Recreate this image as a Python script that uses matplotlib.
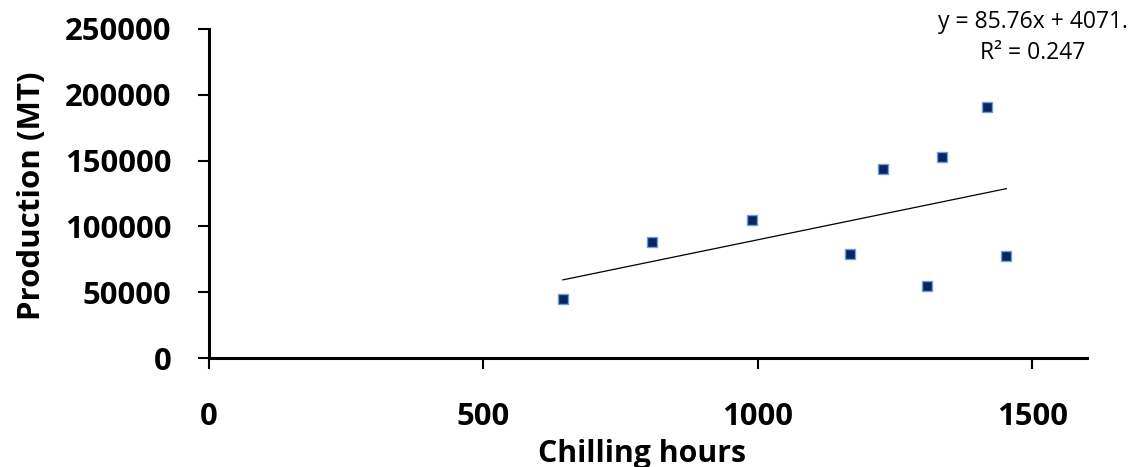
import matplotlib
matplotlib.use("Agg")
import matplotlib.pyplot as plt
import numpy as np

# data
chilling_hours = [645, 807, 989, 1169, 1229, 1309, 1336, 1418, 1453]
production = [44800, 88100, 104500, 79200, 143500, 54400, 152800, 191000, 77400]

# trendline as printed on the chart
slope = 85.76
intercept = 4071
eq_text = "y = 85.76x + 4071."
r2_text = "R\u00b2 = 0.247"

x_ticks = [0, 500, 1000, 1500]
y_ticks = [0, 50000, 100000, 150000, 200000, 250000]

plt.rcParams['font.family'] = ['Open Sans', 'DejaVu Sans']

W, H, dpi = 1132, 467, 100
fig = plt.figure(figsize=(W / dpi, H / dpi), dpi=dpi)
ax = fig.add_axes([209 / W, 1 - 358 / H, (1087 - 209) / W, (358 - 29) / H])

xs = np.array([min(chilling_hours), max(chilling_hours)])
ax.plot(xs, slope * xs + intercept, color='black', lw=0.9, zorder=2)
ax.plot(chilling_hours, production, ls='none', marker='s', ms=7.8,
        mfc='#0b2265', mec='#6fa0d8', mew=1.0, zorder=3)

ax.set_xlim(0, 1600)
ax.set_ylim(0, 250000)
ax.set_xticks(x_ticks)
ax.set_yticks(y_ticks)
ax.set_xticklabels([str(v) for v in x_ticks], fontsize=22.3, fontweight='bold')
ax.set_yticklabels([str(v) for v in y_ticks], fontsize=22.3, fontweight='bold')
ax.tick_params(axis='x', direction='out', length=8, width=1.5, pad=24)
ax.tick_params(axis='y', direction='out', length=8, width=1.5, pad=19)

for s in ['top', 'right']:
    ax.spines[s].set_visible(False)
for s in ['left', 'bottom']:
    ax.spines[s].set_linewidth(2.2)

fig.text(642 / W, 1 - 462 / H, "Chilling hours", ha='center', va='baseline',
         fontsize=21.8, fontweight='bold')
fig.text(32 / W, 1 - 196 / H, "Production (MT)", ha='center', va='center',
         rotation=90, fontsize=22.5, fontweight='bold')

fig.text(1033 / W, 1 - 22 / H, eq_text, ha='center', va='center', fontsize=16.5)
fig.text(1033 / W, 1 - 53 / H, r2_text, ha='center', va='center', fontsize=16.5)

fig.savefig("out.png", dpi=dpi)
